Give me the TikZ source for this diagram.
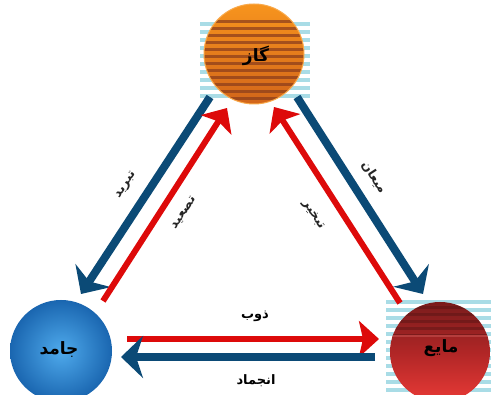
\documentclass[tikz,border=0pt]{standalone}
\usepackage{fontspec}
\newfontfamily\arfont[Script=Arabic]{DejaVu Sans}
\TeXXeTstate=1
\usetikzlibrary{arrows.meta}
\definecolor{redA}{HTML}{DD0A0A}
\definecolor{blueA}{HTML}{0B4A76}
\definecolor{stripeBlue}{HTML}{A9DCE6}
\definecolor{orangeT}{HTML}{F7941D}
\definecolor{orangeB}{HTML}{D2651A}
\definecolor{brownS}{HTML}{8E3F1C}
\definecolor{redT}{HTML}{7A1C1C}
\definecolor{redM}{HTML}{B02626}
\definecolor{redB}{HTML}{E83A36}
\definecolor{blueL}{HTML}{4FAAEC}
\definecolor{blueD}{HTML}{1A66B0}
\tikzset{
  redarrow/.style={draw=redA, line width=6pt, -{Stealth[length=20pt,width=36pt,inset=4pt]}},
  bluearrow/.style={draw=blueA, line width=8pt, -{Stealth[length=22pt,width=42pt,inset=7pt]}},
  statelabel/.style={font=\arfont\bfseries\fontsize{17}{19}\selectfont, text=black, inner sep=0pt},
  proclabel/.style={font=\arfont\bfseries\fontsize{13}{15}\selectfont, text=black, inner sep=0pt},
  sidelabel/.style={font=\arfont\bfseries\fontsize{12.5}{14}\selectfont, text=black!85, inner sep=0pt}
}
\begin{document}
\begin{tikzpicture}[x=1pt,y=-1pt]
\useasboundingbox (0,0) rectangle (491,395);
\fill[white] (0,0) rectangle (491,395);
% striped backgrounds
\foreach \yy in {22,30,...,94} \fill[stripeBlue] (200,\yy) rectangle (310,\yy+4);
\foreach \yy in {300,308,...,392} \fill[stripeBlue] (386,\yy) rectangle (491,\yy+4);
% centres
\coordinate (cg) at (254,54);
\coordinate (cs) at (61,351);
\coordinate (cl) at (440,352);
% gas circle
\shade[top color=orangeT, bottom color=orangeB] (cg) circle (50pt);
\begin{scope}
\clip (cg) circle (50pt);
\foreach \yy in {20,27,...,104} \fill[brownS, opacity=0.75] (200,\yy) rectangle (310,\yy+3);
\end{scope}
\draw[orangeT!80!white, line width=1pt] (cg) circle (50pt);
% solid circle
\shade[inner color=blueL, outer color=blueD] (cs) circle (51pt);
% liquid circle
\shade[top color=redT, bottom color=redB, middle color=redM] (cl) circle (50pt);
\begin{scope}
\clip (cl) circle (50pt);
\foreach \yy in {306,313,...,340} \fill[redT!70!black, opacity=0.45] (386,\yy) rectangle (491,\yy+3);
\fill[redB!80!white, opacity=0.5] (386,335) rectangle (491,337);
\end{scope}
% state labels
\node[statelabel] (gas) at (256,56) {\beginR گاز\endR};
\node[statelabel] (solid) at (59,350) {\beginR جامد\endR};
\node[statelabel] (liquid) at (441,348) {\beginR مایع\endR};
% arrow endpoints
\coordinate (hRs) at (127,339);
\coordinate (hRe) at (379,339);
\coordinate (hBs) at (375,357);
\coordinate (hBe) at (121,357);
\coordinate (lBs) at (210,97);
\coordinate (lBe) at (81,294);
\coordinate (lRs) at (103,301);
\coordinate (lRe) at (227,108);
\coordinate (rRs) at (400,303);
\coordinate (rRe) at (274,107);
\coordinate (rBs) at (297,97);
\coordinate (rBe) at (423,294);
% arrows
\draw[redarrow] (hRs) -- (hRe);
\draw[bluearrow] (hBs) -- (hBe);
\draw[bluearrow] (lBs) -- (lBe);
\draw[redarrow] (lRs) -- (lRe);
\draw[redarrow] (rRs) -- (rRe);
\draw[bluearrow] (rBs) -- (rBe);
% process labels
\node[proclabel] (melt) at (255,316) {\beginR ذوب\endR};
\node[proclabel] (freeze) at (256,381) {\beginR انجماد\endR};
\node[sidelabel, rotate=56] (depo) at (126,185) {\beginR تبرید\endR};
\node[sidelabel, rotate=56] (subl) at (184,213) {\beginR تصعید\endR};
\node[sidelabel, rotate=-57] (cond) at (374,177) {\beginR میعان\endR};
\node[sidelabel, rotate=-57] (evap) at (313,215) {\beginR تبخیر\endR};
\end{tikzpicture}
\end{document}
